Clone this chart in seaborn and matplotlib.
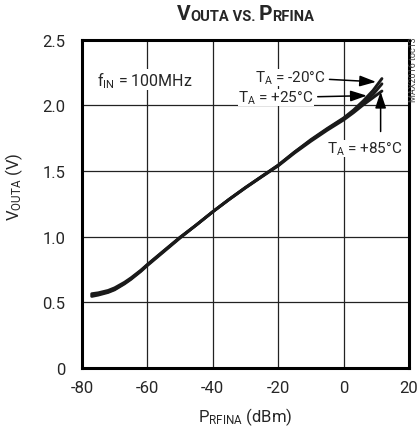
import numpy as np
import pandas as pd
import seaborn as sns
import matplotlib.pyplot as plt

# ---- data (VOUTA vs PRFINA, three temperatures)
p_rfina = [-77, -75, -72, -70, -67, -65, -62, -60, -55, -50, -45, -40, -35,
           -30, -25, -20, -15, -10, -5, 0, 3, 6, 9, 11.7]
v_m20 = [0.545, 0.555, 0.575, 0.595, 0.64, 0.675, 0.735, 0.78, 0.885, 0.99,
         1.09, 1.19, 1.285, 1.375, 1.46, 1.545, 1.645, 1.74, 1.825, 1.905,
         1.965, 2.035, 2.115, 2.205]
v_p25 = [0.555, 0.562, 0.58, 0.60, 0.645, 0.68, 0.74, 0.785, 0.89, 0.995,
         1.09, 1.19, 1.285, 1.375, 1.46, 1.545, 1.645, 1.735, 1.82, 1.90,
         1.955, 2.02, 2.085, 2.165]
v_p85 = [0.565, 0.572, 0.59, 0.61, 0.652, 0.686, 0.744, 0.788, 0.892, 0.995,
         1.09, 1.19, 1.283, 1.372, 1.457, 1.54, 1.638, 1.728, 1.812, 1.89,
         1.945, 2.005, 2.06, 2.11]
temps = ["-20", "+25", "+85"]

df = pd.concat([pd.DataFrame({"p": p_rfina, "v": v, "t": t})
                for t, v in zip(temps, [v_m20, v_p25, v_p85])])

sns.set_style("white")
plt.rcParams["font.family"] = ["Roboto", "DejaVu Sans"]
plt.rcParams["mathtext.default"] = "regular"
plt.rcParams["axes.unicode_minus"] = False

fig = plt.figure(figsize=(4.2, 4.35), dpi=100)
ax = fig.add_axes([0.195, 0.152, 0.779, 0.754])

for t in temps:
    sns.lineplot(data=df[df.t == t], x="p", y="v", color="#1a1a1a",
                 lw=2.1, ax=ax, legend=False)

ax.set_xlim(-80, 20)
ax.set_ylim(0, 2.5)
ax.set_xticks(range(-80, 21, 20))
ax.set_yticks([0, 0.5, 1.0, 1.5, 2.0, 2.5])
ax.set_yticklabels(["0", "0.5", "1.0", "1.5", "2.0", "2.5"])
ax.tick_params(length=0, labelsize=12)
ax.tick_params(axis="x", pad=9)
ax.tick_params(axis="y", pad=12)
ax.grid(True, color="#222222", lw=0.9)
ax.set_axisbelow(True)
for s in ax.spines.values():
    s.set_linewidth(2.2)
    s.set_color("black")

ax.set_xlabel("P$_{RFINA}$ (dBm)", fontsize=12)
ax.set_ylabel("V$_{OUTA}$ (V)", fontsize=12)
ax.xaxis.set_label_coords(0.5, -0.115)
ax.yaxis.set_label_coords(-0.175, 0.555)

box = dict(facecolor="white", edgecolor="none", pad=0)
ax.text(-75.5, 2.2, "f$_{IN}$ = 100MHz", fontsize=11.5, va="center", bbox=box)

arrow = dict(arrowstyle="-|>,head_length=0.9,head_width=0.3", color="black",
             lw=1.1, shrinkA=3, shrinkB=0)
ax.annotate("T$_A$ = +25°C", xy=(7.1, 2.075), xytext=(-9.2, 2.06),
            fontsize=11, ha="right", va="center", bbox=box, arrowprops=arrow)
ax.annotate("T$_A$ = -20°C", xy=(9.9, 2.18), xytext=(-5.6, 2.215),
            fontsize=11, ha="right", va="center", bbox=box, arrowprops=arrow)
ax.annotate("", xy=(11.3, 2.105), xytext=(11.3, 1.77), fontsize=11,
            arrowprops=arrow)
ax.text(6.5, 1.67, "T$_A$ = +85°C", fontsize=11, ha="center", va="center",
        bbox=box)

fig.text(0.985, 0.915, "MAX2016 toc13", rotation=90, fontsize=6.5,
         color="#444444", ha="center", va="top")

# title in bold small caps: big initial letters, smaller rest
pieces = [("V", 15), ("OUTA", 10.5), (" VS. ", 10.5), ("P", 15), ("RFINA", 10.5)]
prev = fig.text(0.3, 0.945, pieces[0][0], fontsize=pieces[0][1],
                weight="bold", ha="left", va="bottom")
first = prev
parts = [prev]
for s, fs in pieces[1:]:
    prev = ax.annotate(s, xy=(1, 0), xycoords=prev, fontsize=fs,
                       weight="bold", ha="left", va="bottom",
                       annotation_clip=False)
    parts.append(prev)
fig.canvas.draw()
r = fig.canvas.get_renderer()
x0 = parts[0].get_window_extent(r).x0
x1 = parts[-1].get_window_extent(r).x1
w = (x1 - x0) / fig.bbox.width
first.set_x(0.5845 - w / 2)

fig.savefig("out.png", dpi=100)
